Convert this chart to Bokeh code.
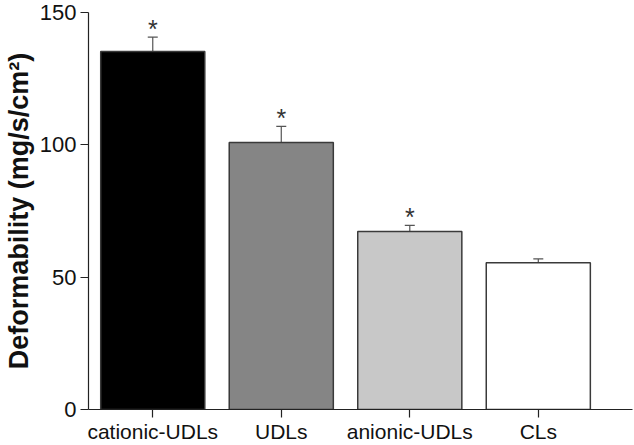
from bokeh.plotting import figure
from bokeh.models import Range1d, ColumnDataSource, Whisker, FixedTicker
from bokeh.core.properties import value
from bokeh.embed import file_html
from bokeh.resources import INLINE

categories = ["cationic-UDLs", "UDLs", "anionic-UDLs", "CLs"]
means = [135.3, 100.9, 67.3, 55.4]
errors = [5.4, 6.1, 2.3, 1.5]
colors = ["#000000", "#858585", "#c8c8c8", "#ffffff"]
significant = ["*", "*", "*", ""]
y_ticks = [0, 50, 100, 150]

xs = list(range(len(categories)))
upper = [m + e for m, e in zip(means, errors)]

src = ColumnDataSource(dict(x=xs, top=means, upper=upper, color=colors, star=significant))

p = figure(width=634, height=445, output_backend="svg", toolbar_location=None,
           x_range=Range1d(-0.5, 3.733), y_range=Range1d(0, 150),
           min_border_left=88, min_border_right=2, min_border_top=12, min_border_bottom=33)
p.outline_line_color = None
p.xgrid.visible = False
p.ygrid.visible = False
p.background_fill_color = "white"

p.vbar(x="x", top="top", bottom=0, width=0.81, fill_color="color", line_color="#3a3a3a",
       line_width=1.5, source=src)

w = Whisker(base="x", lower="top", upper="upper", source=src, line_color="#555555", line_width=1.2,
            lower_head=None)
w.upper_head.size = 10
w.upper_head.line_color = "#555555"
w.upper_head.line_width = 1.2
p.add_layout(w)

p.text(x="x", y="upper", text="star", source=src, text_align="center", text_baseline="alphabetic",
       y_offset=-8, text_font=value("Liberation Sans"), text_font_size="25px", text_color="#333333")

for ax in (p.xaxis[0], p.yaxis[0]):
    ax.axis_line_color = "#222222"
    ax.axis_line_width = 1.2
    ax.major_tick_line_color = "#222222"
    ax.major_tick_line_width = 1.2
    ax.major_tick_out = 8
    ax.major_tick_in = 0
    ax.minor_tick_line_color = None
    ax.major_label_text_font = "Liberation Sans"
    ax.major_label_text_color = "#111111"

p.xaxis.major_label_text_font_size = "21px"
p.yaxis.major_label_text_font_size = "22px"
p.xaxis.ticker = FixedTicker(ticks=xs)
p.xaxis.major_label_overrides = {i: c for i, c in enumerate(categories)}
p.xaxis.major_label_standoff = 2
p.yaxis.ticker = FixedTicker(ticks=y_ticks)
p.yaxis.major_label_standoff = 4
p.yaxis.axis_label = "Deformability (mg/s/cm²)"
p.yaxis.axis_label_text_font = "Liberation Sans"
p.yaxis.axis_label_text_font_style = "bold"
p.yaxis.axis_label_text_font_size = "27px"
p.yaxis.axis_label_text_color = "#111111"
p.yaxis.axis_label_standoff = 3

open("out.html", "w").write(file_html(p, INLINE))
